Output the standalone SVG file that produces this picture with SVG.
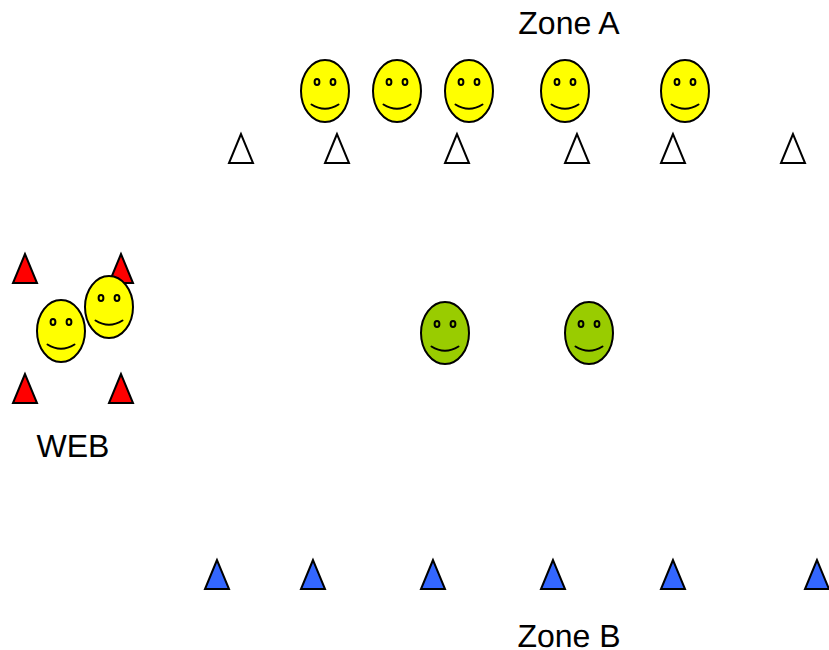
<svg xmlns="http://www.w3.org/2000/svg" width="829" height="650" viewBox="0 0 829 650">
<style>
.o{stroke:#000;stroke-width:2}
.tri{stroke:#000;stroke-width:2;stroke-linejoin:miter}
.white{fill:#fff}.red{fill:#f00}.blue{fill:#36f}
.yellow{fill:#ff0}.green{fill:#9c0}
.m{fill:none;stroke:#000;stroke-width:2;stroke-linecap:round}
text{font-family:"Liberation Sans",Arial,sans-serif;font-size:32px;fill:#000;text-anchor:middle;text-rendering:geometricPrecision}
</style>
<defs>
<polygon id="t" points="0,-14 -12,15 12,15"/>
<g id="f">
<ellipse class="o" cx="0" cy="0" rx="24" ry="31"/>
<ellipse class="m" cx="-8" cy="-9" rx="2.4" ry="3"/>
<ellipse class="m" cx="8" cy="-9" rx="2.4" ry="3"/>
<path class="m" d="M-13.5,13.5 Q0,22 13.5,13.5"/>
</g>
</defs>
<rect width="829" height="650" fill="#fff"/>
<g id="label-zone-a"><text x="569" y="34">Zone A</text></g>
<g id="label-web"><text x="73" y="457">WEB</text></g>
<g id="label-zone-b"><text x="569" y="647">Zone B</text></g>
<g id="a-tri-1"><use href="#t" x="241" y="148" class="tri white"/></g>
<g id="a-tri-2"><use href="#t" x="337" y="148" class="tri white"/></g>
<g id="a-tri-3"><use href="#t" x="457" y="148" class="tri white"/></g>
<g id="a-tri-4"><use href="#t" x="577" y="148" class="tri white"/></g>
<g id="a-tri-5"><use href="#t" x="673" y="148" class="tri white"/></g>
<g id="a-tri-6"><use href="#t" x="793" y="148" class="tri white"/></g>
<g id="a-face-1"><use href="#f" x="325" y="91" class="yellow"/></g>
<g id="a-face-2"><use href="#f" x="397" y="91" class="yellow"/></g>
<g id="a-face-3"><use href="#f" x="469" y="91" class="yellow"/></g>
<g id="a-face-4"><use href="#f" x="565" y="91" class="yellow"/></g>
<g id="a-face-5"><use href="#f" x="685" y="91" class="yellow"/></g>
<g id="web-tri-1"><use href="#t" x="25" y="268" class="tri red"/></g>
<g id="web-tri-2"><use href="#t" x="121" y="268" class="tri red"/></g>
<g id="web-tri-3"><use href="#t" x="25" y="388" class="tri red"/></g>
<g id="web-tri-4"><use href="#t" x="121" y="388" class="tri red"/></g>
<g id="web-face-1"><use href="#f" x="61" y="331" class="yellow"/></g>
<g id="web-face-2"><use href="#f" x="109" y="307" class="yellow"/></g>
<g id="mid-face-1"><use href="#f" x="445" y="333" class="green"/></g>
<g id="mid-face-2"><use href="#f" x="589" y="333" class="green"/></g>
<g id="b-tri-1"><use href="#t" x="217" y="574" class="tri blue"/></g>
<g id="b-tri-2"><use href="#t" x="313" y="574" class="tri blue"/></g>
<g id="b-tri-3"><use href="#t" x="433" y="574" class="tri blue"/></g>
<g id="b-tri-4"><use href="#t" x="553" y="574" class="tri blue"/></g>
<g id="b-tri-5"><use href="#t" x="673" y="574" class="tri blue"/></g>
<g id="b-tri-6"><use href="#t" x="817" y="574" class="tri blue"/></g>
</svg>
